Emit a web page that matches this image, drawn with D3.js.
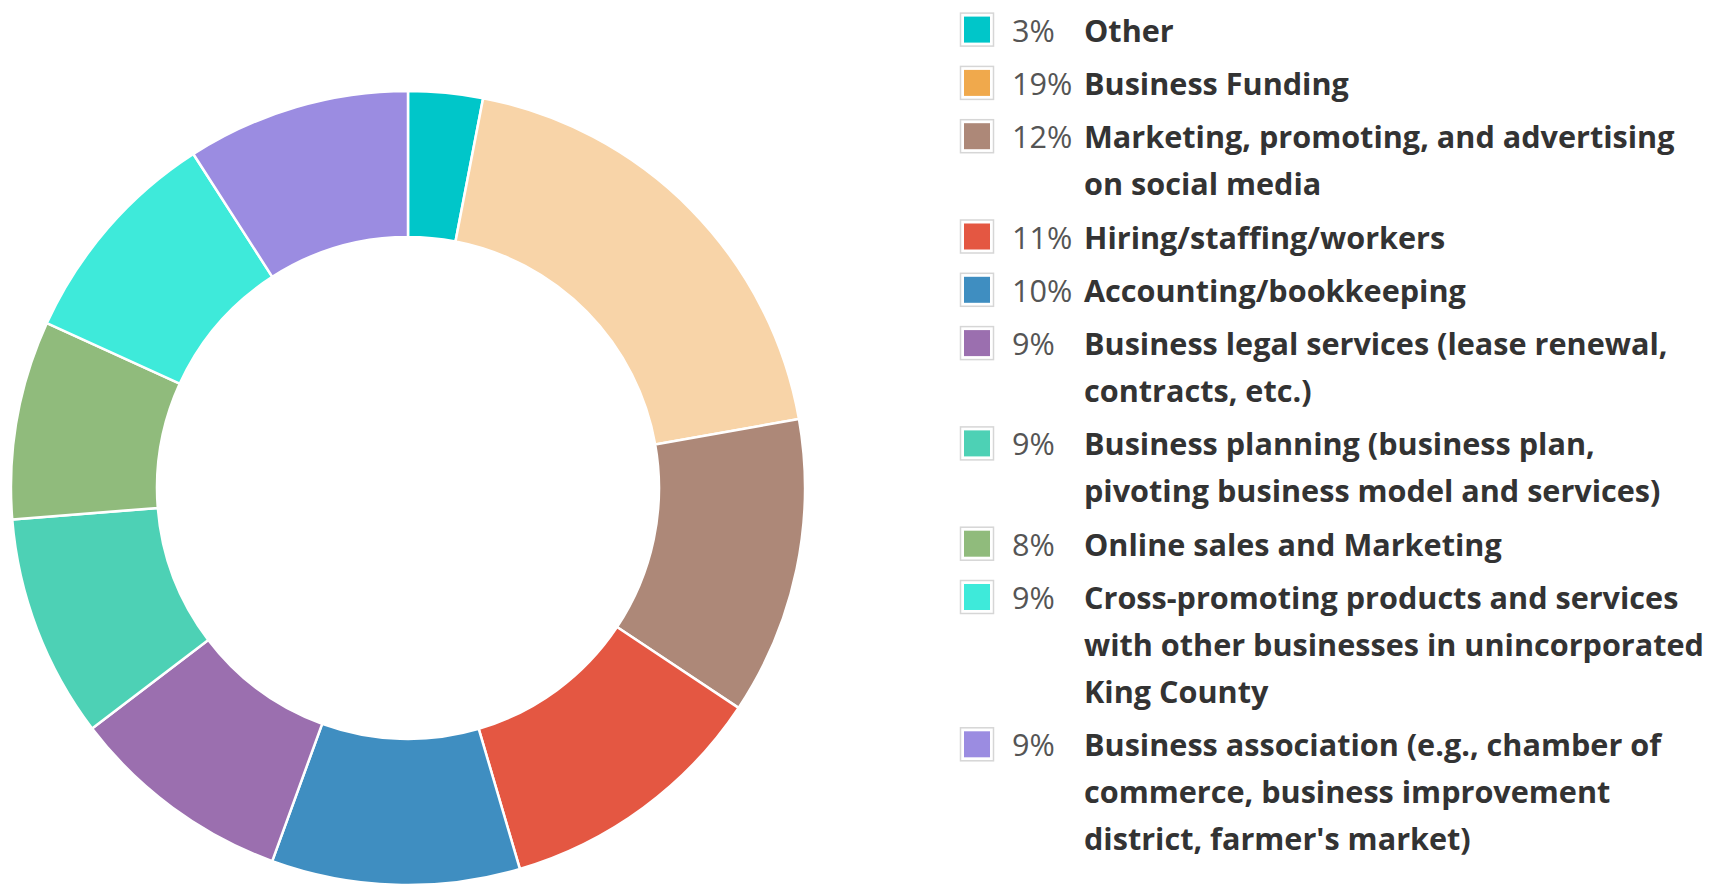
<!DOCTYPE html>
<html>
<head>
<meta charset="utf-8">
<script src="https://cdn.jsdelivr.net/npm/d3@7"></script>
<style>
  html, body { margin: 0; padding: 0; background: #fff; }
  svg { display: block; }
</style>
</head>
<body>
<svg id="chart" width="1715" height="887"></svg>
<script>
// Survey: business support topics of interest ("\n" marks a legend line break)
const categories = [
  "Other",
  "Business Funding",
  "Marketing, promoting, and advertising\non social media",
  "Hiring/staffing/workers",
  "Accounting/bookkeeping",
  "Business legal services (lease renewal,\ncontracts, etc.)",
  "Business planning (business plan,\npivoting business model and services)",
  "Online sales and Marketing",
  "Cross-promoting products and services\nwith other businesses in unincorporated\nKing County",
  "Business association (e.g., chamber of\ncommerce, business improvement\ndistrict, farmer's market)"
];
const percents = [3, 19, 12, 11, 10, 9, 9, 8, 9, 9];
const swatchColors = ["#00c6c9", "#f0a94c", "#ad8878", "#e45742", "#3f8ec1", "#9b6faf", "#4dd1b5", "#90bb7c", "#3eeada", "#9b8ce1"];
// the Business Funding wedge is shown in its lighter (highlighted) tone
const sliceColors = ["#00c6c9", "#f8d4a8", "#ad8878", "#e45742", "#3f8ec1", "#9b6faf", "#4dd1b5", "#90bb7c", "#3eeada", "#9b8ce1"];

const svg = d3.select("#chart");

// ---- donut ----
const cx = 408, cy = 488, rOuter = 397, rInner = 251;
const pie = d3.pie().sort(null).value(d => d)(percents);
const arc = d3.arc().innerRadius(rInner).outerRadius(rOuter);
svg.append("g")
  .attr("transform", `translate(${cx},${cy})`)
  .selectAll("path")
  .data(pie)
  .join("path")
  .attr("d", arc)
  .attr("fill", (d, i) => sliceColors[i])
  .attr("stroke", "#fff")
  .attr("stroke-width", 2.5)
  .attr("stroke-linejoin", "round");

// ---- legend ----
const legendX = 960, pctX = 1012, labelX = 1084;
const lineH = 47, itemGap = 6.3, fontSize = 30.6;
const legend = svg.append("g").attr("font-family", "'Open Sans', sans-serif");

let y = 30.6; // centre of the first line
categories.forEach((cat, i) => {
  const g = legend.append("g");
  // swatch: gray frame, white inset, coloured square
  g.append("rect")
    .attr("x", legendX + 0.5).attr("y", y - 17.5)
    .attr("width", 33).attr("height", 33)
    .attr("fill", "#fff").attr("stroke", "#d6d6d6").attr("stroke-width", 1.5);
  g.append("rect")
    .attr("x", legendX + 4).attr("y", y - 14)
    .attr("width", 26).attr("height", 26)
    .attr("fill", swatchColors[i]);

  g.append("text")
    .attr("x", pctX).attr("y", y).attr("dy", "0.36em")
    .attr("font-size", fontSize).attr("fill", "#555")
    .text(percents[i] + "%");

  const lines = cat.split("\n");
  g.append("text")
    .attr("font-size", fontSize).attr("font-weight", 700).attr("fill", "#333")
    .selectAll("tspan")
    .data(lines)
    .join("tspan")
    .attr("x", labelX)
    .attr("y", (d, k) => y + k * lineH)
    .attr("dy", "0.36em")
    .text(d => d);
  y += lines.length * lineH + itemGap;
});
</script>
</body>
</html>
